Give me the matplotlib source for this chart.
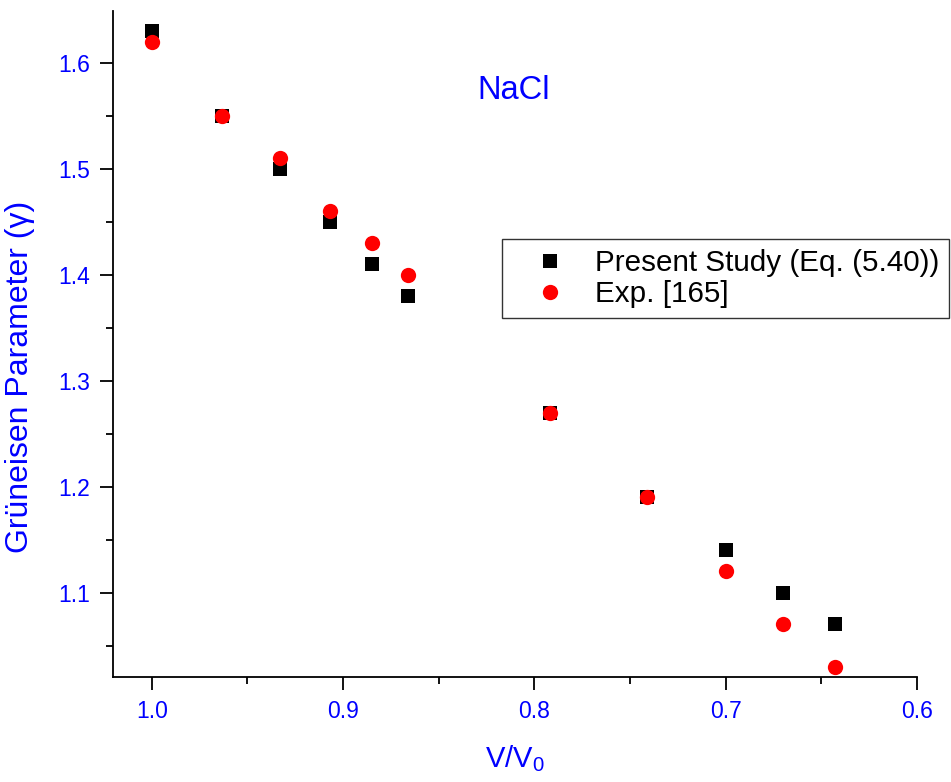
import matplotlib
matplotlib.use('Agg')
import matplotlib.pyplot as plt
from matplotlib.ticker import MultipleLocator

plt.rcParams['font.family'] = ['Liberation Sans', 'DejaVu Sans']

# V/V0 values and Grueneisen parameter
v_ratio = [1.0, 0.963, 0.933, 0.907, 0.885, 0.866, 0.792, 0.741, 0.700, 0.670, 0.643]
gamma_present = [1.63, 1.55, 1.50, 1.45, 1.41, 1.38, 1.27, 1.19, 1.14, 1.10, 1.07]
gamma_exp = [1.62, 1.55, 1.51, 1.46, 1.43, 1.40, 1.27, 1.19, 1.12, 1.07, 1.03]

blue = '#0000ff'

fig = plt.figure(figsize=(9.51, 7.82), dpi=100)
ax = fig.add_axes([0.1185, 0.1339, 0.8455, 0.8524])

ax.plot(v_ratio, gamma_present, linestyle='none', marker='s', markersize=9.6,
        color='black', markeredgewidth=0, label='Present Study (Eq. (5.40))')
ax.plot(v_ratio, gamma_exp, linestyle='none', marker='o', markersize=11,
        color='red', markeredgewidth=0, label='Exp. [165]')

ax.set_xlim(1.0204, 0.6)
ax.set_ylim(1.02, 1.6494)

ax.xaxis.set_major_locator(MultipleLocator(0.1))
ax.xaxis.set_minor_locator(MultipleLocator(0.05))
ax.yaxis.set_major_locator(MultipleLocator(0.1))
ax.yaxis.set_minor_locator(MultipleLocator(0.05))
ax.xaxis.set_major_formatter(plt.FormatStrFormatter('%.1f'))
ax.yaxis.set_major_formatter(plt.FormatStrFormatter('%.1f'))

for s in ['top', 'right']:
    ax.spines[s].set_visible(False)
for s in ['left', 'bottom']:
    ax.spines[s].set_linewidth(1.3)

ax.tick_params(which='major', direction='out', length=9.5, width=1.3,
               labelsize=16.5, labelcolor=blue, pad=7)
ax.tick_params(which='minor', direction='out', length=5, width=1.3)

ax.set_xlabel('V/V$\\mathregular{_0}$', fontsize=21, color=blue)
ax.xaxis.set_label_coords(0.5, -0.099)
ax.set_ylabel('Grüneisen Parameter (γ)', fontsize=23, color=blue)
ax.yaxis.set_label_coords(-0.097, 0.45)

ax.text(0.499, 0.881, 'NaCl', transform=ax.transAxes, fontsize=23.5,
        color=blue, ha='center', va='center')

leg = ax.legend(loc='upper left', bbox_to_anchor=(0.5275, 0.694),
                bbox_transform=fig.transFigure, fontsize=21.3, frameon=True,
                fancybox=False, borderpad=0.33, borderaxespad=0,
                handlelength=2.6, handletextpad=0.22, labelspacing=0.1,
                markerscale=1.0)
leg.get_frame().set_edgecolor('black')
leg.get_frame().set_linewidth(1.0)

fig.savefig('out.png', dpi=100)
